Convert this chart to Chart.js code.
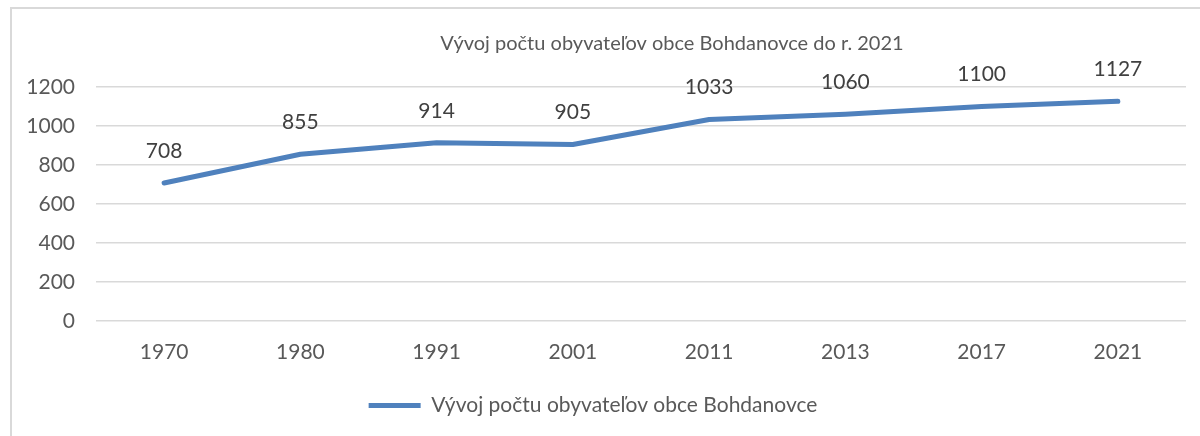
<!DOCTYPE html>
<html>
<head>
<meta charset="utf-8">
<script src="https://cdn.jsdelivr.net/npm/chart.js@4/dist/chart.umd.min.js"></script>
<style>
  html, body { margin: 0; padding: 0; background: #fff; }
  body { width: 1200px; height: 436px; position: relative; overflow: hidden; }
  .frame {
    position: absolute; left: 10px; top: 7px; width: 1200px; height: 440px;
    border: 2px solid #d9d9d9; box-sizing: border-box;
  }
  #chart { position: absolute; left: 0; top: 0; }
</style>
</head>
<body>
<div class="frame"></div>
<canvas id="chart" width="1200" height="436"></canvas>
<script>
const years = ["1970", "1980", "1991", "2001", "2011", "2013", "2017", "2021"];
const population = [708, 855, 914, 905, 1033, 1060, 1100, 1127];
const seriesName = "Vývoj počtu obyvateľov obce Bohdanovce";
const chartTitle = "Vývoj počtu obyvateľov obce Bohdanovce do r. 2021";

const fontFamily = "Lato, 'Liberation Sans', sans-serif";
const textColor = "#595959";
const lineColor = "#4f81bd";

// values above each point
const valueLabels = {
  id: "valueLabels",
  afterDatasetsDraw(chart) {
    const ctx = chart.ctx;
    const meta = chart.getDatasetMeta(0);
    ctx.save();
    ctx.font = `21px ${fontFamily}`;
    ctx.fillStyle = "#404040";
    ctx.textAlign = "center";
    ctx.textBaseline = "middle";
    meta.data.forEach((pt, i) => {
      ctx.fillText(String(population[i]), pt.x, pt.y - 32);
    });
    ctx.restore();
  },
};

// title sits right of centre in the original, so draw it here
const offsetTitle = {
  id: "offsetTitle",
  afterDraw(chart) {
    const ctx = chart.ctx;
    ctx.save();
    ctx.font = `20px ${fontFamily}`;
    ctx.fillStyle = textColor;
    ctx.textAlign = "center";
    ctx.textBaseline = "middle";
    ctx.fillText(chartTitle, 672, 44);
    ctx.restore();
  },
};

new Chart(document.getElementById("chart"), {
  type: "line",
  data: {
    labels: years,
    datasets: [
      {
        label: seriesName,
        data: population,
        borderColor: lineColor,
        backgroundColor: lineColor,
        borderWidth: 5,
        borderCapStyle: "round",
        borderJoinStyle: "round",
        pointRadius: 0,
        tension: 0,
      },
    ],
  },
  options: {
    responsive: false,
    animation: false,
    layout: { padding: { left: 0, right: 14, top: 87, bottom: 10 } },
    scales: {
      x: {
        offset: true,
        grid: { display: false, drawTicks: false },
        border: { display: false },
        ticks: { color: textColor, font: { family: fontFamily, size: 21 }, padding: 19 },
        afterFit(scale) { scale.height = 64; },
      },
      y: {
        min: 0,
        max: 1200,
        ticks: {
          stepSize: 200,
          color: textColor,
          font: { family: fontFamily, size: 21 },
          padding: 21,
          callback: (v) => String(v),
        },
        grid: { color: "#d9d9d9", lineWidth: 1.5, drawTicks: false },
        border: { display: false },
        afterFit(scale) { scale.width = 96; },
      },
    },
    plugins: {
      title: { display: false },
      legend: {
        display: true,
        position: "bottom",
        labels: {
          usePointStyle: true,
          pointStyle: "line",
          pointStyleWidth: 52,
          color: textColor,
          font: { family: fontFamily, size: 21 },
          padding: 10,
        },
      },
      tooltip: { enabled: false },
    },
  },
  plugins: [valueLabels, offsetTitle],
});
</script>
</body>
</html>
